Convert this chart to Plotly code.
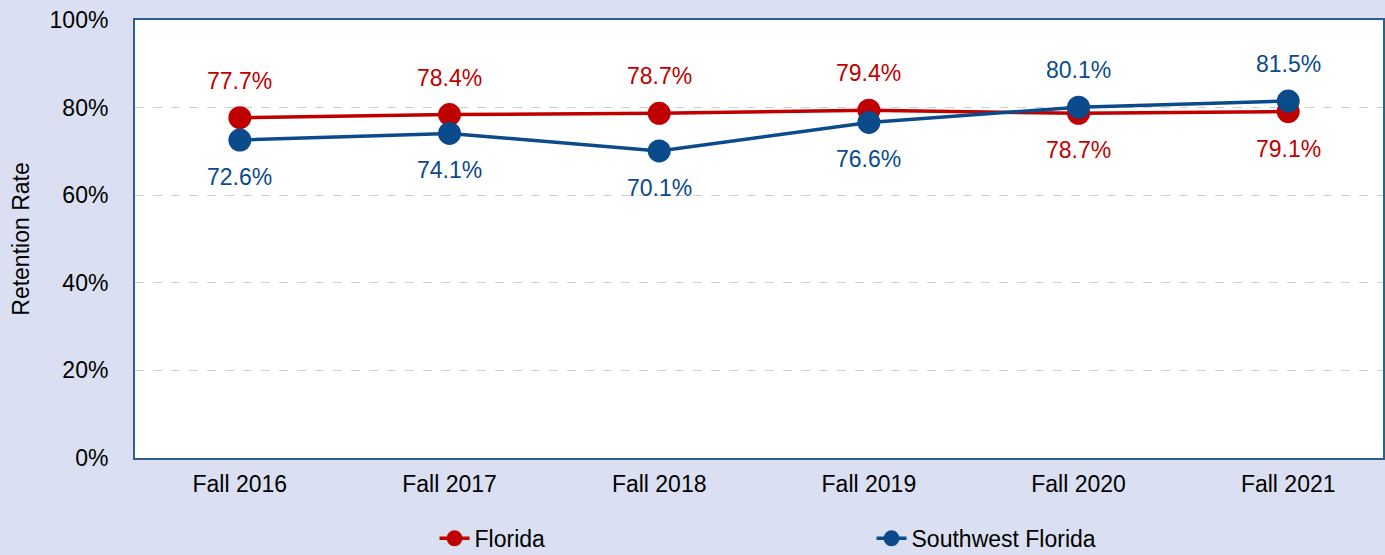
import plotly.graph_objects as go

terms = ["Fall 2016", "Fall 2017", "Fall 2018", "Fall 2019", "Fall 2020", "Fall 2021"]
florida = [77.7, 78.4, 78.7, 79.4, 78.7, 79.1]
southwest = [72.6, 74.1, 70.1, 76.6, 80.1, 81.5]
# +1 label above the point, -1 below
florida_side = [1, 1, 1, 1, -1, -1]
southwest_side = [-1, -1, -1, -1, 1, 1]

RED = "#C00000"
BLUE = "#0B4A8B"
FONT = "Liberation Sans, Arial, sans-serif"
FS = 23

fig = go.Figure()
for name, vals, color in [("Florida", florida, RED), ("Southwest Florida", southwest, BLUE)]:
    fig.add_scatter(x=terms, y=vals, name=name, mode="lines+markers",
                    line=dict(color=color, width=3.5),
                    marker=dict(color=color, size=23))

for vals, sides, color in [(florida, florida_side, RED), (southwest, southwest_side, BLUE)]:
    for t, v, s in zip(terms, vals, sides):
        fig.add_annotation(x=t, y=v, text=f"{v:.1f}%", showarrow=False,
                           yshift=37 * s, font=dict(size=FS, color=color, family=FONT))

fig.update_layout(
    width=1385, height=555,
    margin=dict(l=135, r=0, t=20, b=97),
    paper_bgcolor="#DAE0F2", plot_bgcolor="white",
    font=dict(family=FONT, size=FS, color="black"),
    showlegend=True,
    legend=dict(orientation="h", x=0.24, xanchor="left",
                yref="container", y=0.03, yanchor="middle",
                entrywidth=392, entrywidthmode="pixels", bgcolor="rgba(0,0,0,0)",
                font=dict(size=FS), itemwidth=30),
)
fig.update_xaxes(range=[-0.5, 5.452], showline=True, linecolor="#2F5F8F", linewidth=2,
                 mirror=True, showgrid=False, ticks="", tickfont=dict(size=FS),
                 ticklabelstandoff=4)
fig.update_yaxes(range=[0, 100], dtick=20, ticksuffix="%", showline=True,
                 linecolor="#2F5F8F", linewidth=2, mirror=True,
                 gridcolor="#D0D0D0", griddash="dash", gridwidth=1,
                 tickfont=dict(size=FS), ticklabelstandoff=20,
                 title=dict(text="Retention Rate", font=dict(size=FS), standoff=14))

fig.write_html("out.html", config={"displayModeBar": False},
               post_script="document.body.style.margin='0';")
